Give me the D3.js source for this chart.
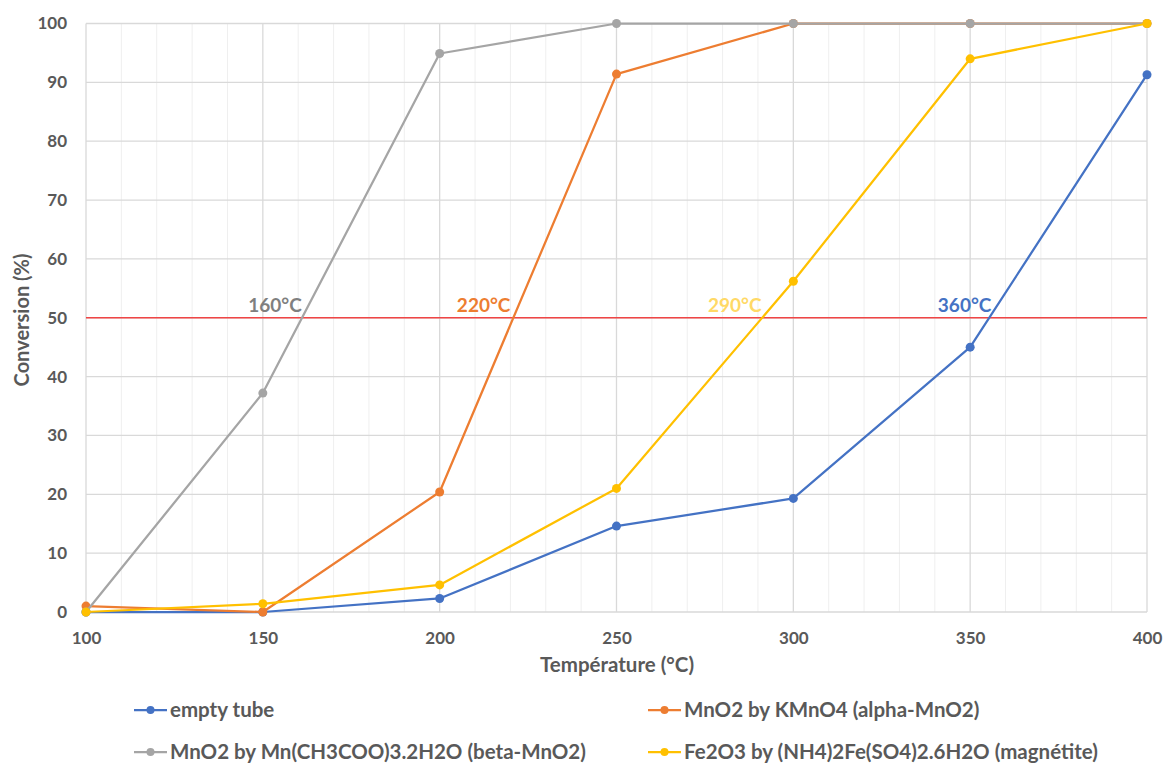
<!DOCTYPE html>
<html>
<head>
<meta charset="utf-8">
<script src="https://cdn.jsdelivr.net/npm/d3@7"></script>
<style>
  body { margin: 0; background: #fff; }
  svg text { font-family: Lato, "Open Sans", sans-serif; }
</style>
</head>
<body>
<svg id="chart" width="1164" height="765"></svg>
<script>
// Temperatures (°C) at which conversion was measured
const temperatures = [100, 150, 200, 250, 300, 350, 400];

// Conversion (%) per catalyst
const emptyTube   = [0, 0, 2.3, 14.6, 19.3, 45.0, 91.3];
const alphaMnO2   = [1.0, 0, 20.4, 91.4, 100, 100, 100];
const betaMnO2    = [0, 37.2, 94.9, 100, 100, 100, 100];
const magnetite   = [0, 1.4, 4.6, 21.0, 56.2, 94.0, 100];

const seriesNames = [
  "empty tube",
  "MnO2 by KMnO4 (alpha-MnO2)",
  "MnO2 by Mn(CH3COO)3.2H2O (beta-MnO2)",
  "Fe2O3 by (NH4)2Fe(SO4)2.6H2O (magnétite)"
];
const seriesColors = ["#4472C4", "#ED7D31", "#A5A5A5", "#FFC000"];
const seriesValues = [emptyTube, alphaMnO2, betaMnO2, magnetite];

// Light-off temperatures at 50 % conversion (label ends at that temperature)
const t50Labels = ["160°C", "220°C", "290°C", "360°C"];
const t50Pos    = [161, 220, 291, 356];
const t50Colors = ["#7F7F7F", "#ED7D31", "#FFD966", "#4472C4"];

const xTicks = [100, 150, 200, 250, 300, 350, 400];
const yTicks = [0, 10, 20, 30, 40, 50, 60, 70, 80, 90, 100];

const svg = d3.select("#chart");
const plotL = 86, plotR = 1147, plotT = 23.5, plotB = 612;
const textGrey = "#595959";

const x = d3.scaleLinear().domain([100, 400]).range([plotL, plotR]);
const y = d3.scaleLinear().domain([0, 100]).range([plotB, plotT]);

// minor vertical gridlines every 10 °C
const g = svg.append("g");
g.selectAll("line.minor").data(d3.range(110, 400, 10).filter(v => v % 50 !== 0))
  .join("line")
  .attr("class", "minor")
  .attr("x1", d => x(d)).attr("x2", d => x(d))
  .attr("y1", plotT).attr("y2", plotB)
  .attr("stroke", "#efefef").attr("stroke-width", 1);

// major vertical gridlines
g.selectAll("line.vmaj").data(xTicks)
  .join("line")
  .attr("class", "vmaj")
  .attr("x1", d => x(d)).attr("x2", d => x(d))
  .attr("y1", plotT).attr("y2", plotB)
  .attr("stroke", "#d9d9d9").attr("stroke-width", 1.3);

// horizontal gridlines
svg.append("g").selectAll("line").data(yTicks)
  .join("line")
  .attr("x1", plotL).attr("x2", plotR)
  .attr("y1", d => y(d)).attr("y2", d => y(d))
  .attr("stroke", "#d9d9d9").attr("stroke-width", 1.3);

// axes (labels only)
const yAxis = d3.axisLeft(y).tickValues(yTicks).tickSize(0).tickPadding(19);
svg.append("g").attr("transform", `translate(${plotL},0)`).call(yAxis)
  .call(s => s.select(".domain").remove())
  .selectAll("text")
  .attr("font-size", 17).attr("font-weight", 700).attr("fill", textGrey)
  .style("font-family", "Lato, sans-serif");

const xAxis = d3.axisBottom(x).tickValues(xTicks).tickSize(0).tickPadding(20);
svg.append("g").attr("transform", `translate(0,${plotB})`).call(xAxis)
  .call(s => s.select(".domain").remove())
  .selectAll("text")
  .attr("font-size", 17).attr("font-weight", 700).attr("fill", textGrey)
  .style("font-family", "Lato, sans-serif");

// axis titles
svg.append("text")
  .attr("transform", `translate(29,320) rotate(-90)`)
  .attr("text-anchor", "middle")
  .attr("font-size", 20).attr("font-weight", 700).attr("fill", textGrey)
  .text("Conversion (%)");
svg.append("text")
  .attr("x", 617).attr("y", 672)
  .attr("text-anchor", "middle")
  .attr("font-size", 20.5).attr("font-weight", 700).attr("fill", textGrey)
  .text("Température (°C)");

// 50 % conversion reference line
svg.append("line")
  .attr("x1", plotL).attr("x2", plotR)
  .attr("y1", y(50)).attr("y2", y(50))
  .attr("stroke", "#F04545").attr("stroke-width", 1.3);

// T50 labels
svg.append("g").selectAll("text").data(t50Labels)
  .join("text")
  .attr("x", (d, i) => x(t50Pos[i]))
  .attr("y", y(50) - 6)
  .attr("text-anchor", "end")
  .attr("font-size", 19).attr("font-weight", 700)
  .attr("fill", (d, i) => t50Colors[i])
  .text(d => d);

// series lines and markers
const line = d3.line().x((d, i) => x(temperatures[i])).y(d => y(d));
seriesValues.forEach((vals, k) => {
  svg.append("path")
    .datum(vals)
    .attr("d", line)
    .attr("fill", "none")
    .attr("stroke", seriesColors[k])
    .attr("stroke-width", 2.25)
    .attr("stroke-linejoin", "round");
  svg.append("g").selectAll("circle").data(vals)
    .join("circle")
    .attr("cx", (d, i) => x(temperatures[i]))
    .attr("cy", d => y(d))
    .attr("r", 4.5)
    .attr("fill", seriesColors[k]);
});

// legend
const legendPos = [[134, 710], [648, 710], [134, 752], [648, 752]];
const lg = svg.append("g");
seriesNames.forEach((name, k) => {
  const [lx, ly] = legendPos[k];
  const item = lg.append("g").attr("transform", `translate(${lx},${ly})`);
  item.append("line").attr("x1", 0).attr("x2", 33).attr("y1", 0).attr("y2", 0)
    .attr("stroke", seriesColors[k]).attr("stroke-width", 2.25);
  item.append("circle").attr("cx", 16.5).attr("cy", 0).attr("r", 4)
    .attr("fill", seriesColors[k]);
  item.append("text").attr("x", 36).attr("y", 0).attr("dy", "0.35em")
    .attr("font-size", 20.5).attr("font-weight", 700).attr("fill", textGrey)
    .text(name);
});
</script>
</body>
</html>
